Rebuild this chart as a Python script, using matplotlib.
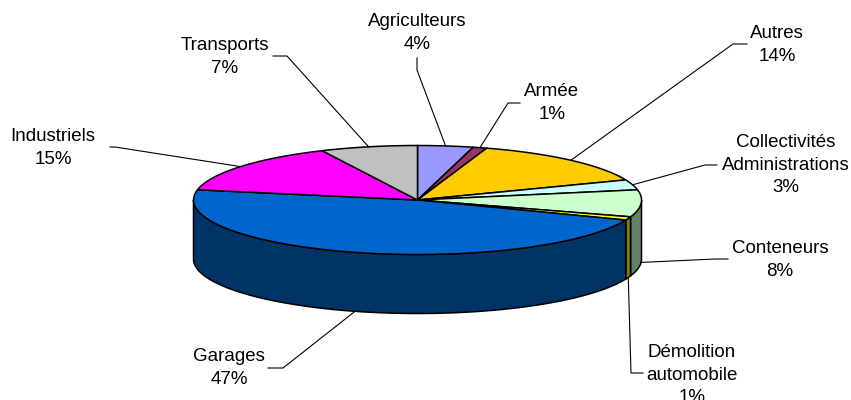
import numpy as np
import matplotlib.pyplot as plt
from matplotlib.patches import Polygon

plt.rcParams['font.family'] = ['Liberation Sans', 'DejaVu Sans']

# Share of each customer category (%)
names = ['Agriculteurs', 'Armée', 'Autres', 'Collectivités\nAdministrations',
         'Conteneurs', 'Démolition\nautomobile', 'Garages', 'Industriels',
         'Transports']
values = [4, 1, 14, 3, 8, 1, 47, 15, 7]
top_colors = ['#9999FF', '#993366', '#FFCC00', '#CCFFFF', '#CCFFCC',
              '#FFFF00', '#0066CC', '#FF00FF', '#C0C0C0']

# label block centres and leader elbows, in pixels
label_pos = [(417, 33), (552, 103), (777, 45), (786, 165), (780, 260),
             (692, 375), (229, 368), (53, 148), (225, 57)]
elbows = [[(417, 70), (417, 58)], [(508, 103), (520, 103)],
          [(733, 44), (747, 44)], [(705, 165), (717, 165)],
          [(715, 259), (728, 259)], [(631, 373), (643, 373)],
          [(283, 368), (268, 368)], [(115, 147), (110, 147)],
          [(287, 56), (273, 56)]]

# pie geometry (pixels)
cx, cy, rx, ry, depth = 417.5, 200, 224, 54.5, 59


def shade(c, k=0.5):
    c = np.array(plt.matplotlib.colors.to_rgb(c))
    return tuple(c * k)


def arc(t1, t2, dy=0, n=80):
    t = np.linspace(t1, t2, n)
    return np.column_stack([cx + rx * np.sin(t), cy - ry * np.cos(t) + dy])


fig = plt.figure(figsize=(8.51, 4.0), dpi=100)
ax = fig.add_axes([0, 0, 1, 1])
ax.set_xlim(0, 851)
ax.set_ylim(400, 0)
ax.axis('off')

frac = np.array(values) / sum(values)
edges = np.concatenate([[0], np.cumsum(frac)]) * 2 * np.pi

for i in range(len(values)):
    t1, t2 = edges[i], edges[i + 1]

    # front wall of the slice
    a, b = max(t1, np.pi / 2), min(t2, 3 * np.pi / 2)
    if a < b:
        pts = np.vstack([arc(a, b), arc(b, a, depth)])
        ax.add_patch(Polygon(pts, closed=True, fc=shade(top_colors[i]),
                             ec='black', lw=1.1, zorder=1))

    # top face
    pts = np.vstack([[cx, cy], arc(t1, t2)])
    ax.add_patch(Polygon(pts, closed=True, fc=top_colors[i],
                         ec='black', lw=1.1, zorder=2))

    # leader line from the slice to its label
    m = (t1 + t2) / 2
    px, py = cx + rx * np.sin(m), cy - ry * np.cos(m)
    if np.cos(m) < 0:
        py += depth
    xs = [px] + [p[0] for p in elbows[i]]
    ys = [py] + [p[1] for p in elbows[i]]
    ax.plot(xs, ys, color='black', lw=0.8, zorder=3)

    ax.text(label_pos[i][0], label_pos[i][1], f'{names[i]}\n{values[i]}%',
            ha='center', va='center', multialignment='center',
            fontsize=13.5, color='black', linespacing=1.4)

fig.savefig('out.png', dpi=100)
